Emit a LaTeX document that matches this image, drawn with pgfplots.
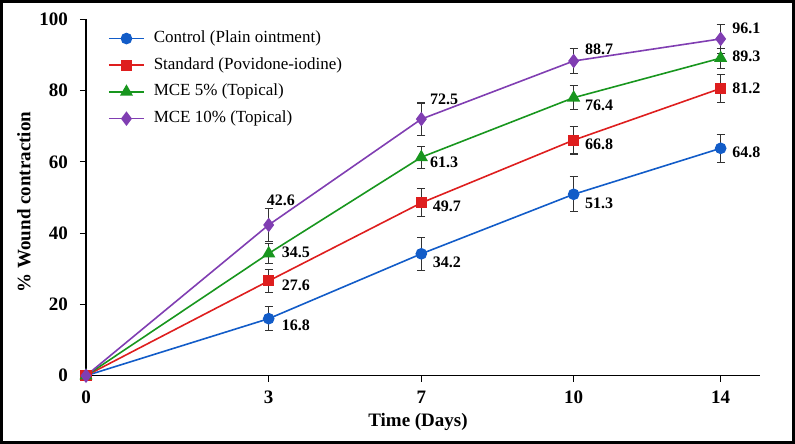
\documentclass[border=0pt]{standalone}
\usepackage{fontspec}
\setmainfont{Liberation Serif}
\usepackage{pgfplots}
\pgfplotsset{compat=1.18}
\definecolor{cblue}{RGB}{18,92,200}
\definecolor{cred}{RGB}{222,30,30}
\definecolor{cgreen}{RGB}{24,150,30}
\definecolor{cpurple}{RGB}{128,62,178}
\definecolor{cerr}{RGB}{50,50,50}
\begin{document}
\begin{tikzpicture}[x=1pt,y=1pt]
\useasboundingbox (0,0) rectangle (795,444);
\draw[line width=3pt] (1.5,1.5) rectangle (793.5,442.5);
\node[font=\fontsize{19}{22}\selectfont\bfseries] at (418,22) {Time (Days)};
\node[font=\fontsize{19}{22}\selectfont\bfseries, rotate=90] at (24,242) {\% Wound contraction};
\begin{axis}[
  at={(86pt,68.3pt)}, anchor=south west,
  scale only axis, width=674pt, height=356.4pt,
  xmin=0, xmax=4.42, ymin=0, ymax=100,
  axis lines=left, axis line style={line width=1.3pt, -},
  clip=false,
  xtick={0,1.198,2.199,3.198,4.162},
  xticklabels={0,3,7,10,14},
  ytick={0,20,40,60,80,100},
  tick align=outside, major tick length=6pt,
  tick style={line width=1.2pt, black},
  /pgf/number format/assume math mode=true,
  ticklabel style={font=\fontsize{19}{22}\selectfont\bfseries},
  yticklabel style={inner sep=0pt, xshift=-12pt},
  xticklabel style={inner sep=0pt, yshift=-9pt},
  legend style={at={(0.0326,0.969)}, anchor=north west, draw=none, fill=none,
    font=\fontsize{17}{20}\selectfont, row sep=10.7pt, inner sep=0pt,
    nodes={inner sep=0pt, text height=12pt, text depth=4pt},
    /tikz/every odd column/.append style={column sep=9pt}},
  legend cell align=left,
  legend image code/.code={\draw[mark repeat=2,mark phase=2] plot coordinates {(0pt,0pt) (17.5pt,0pt) (35pt,0pt)};},
  every axis plot/.append style={line width=1.6pt},
  error bars/error bar style={cerr, line width=1.1pt},
  error bars/error mark options={rotate=90, mark size=4pt, line width=1.1pt, cerr},
]
\addplot[cblue, mark=*, mark size=5pt, mark options={solid, fill=cblue},
  error bars/.cd, y dir=both, y explicit] coordinates {
  (0,0) +- (0,0)
  (1.198,16.0) +- (0,3.3)
  (2.199,34.2) +- (0,4.6)
  (3.198,50.9) +- (0,4.9)
  (4.162,63.8) +- (0,4.0)
};
\addlegendentry{Control (Plain ointment)}
\addplot[cred, mark=square*, mark size=4.8pt, mark options={solid, fill=cred},
  error bars/.cd, y dir=both, y explicit] coordinates {
  (0,0) +- (0,0)
  (1.198,26.6) +- (0,3.3)
  (2.199,48.5) +- (0,3.9)
  (3.198,66.1) +- (0,3.9)
  (4.162,80.6) +- (0,4.0)
};
\addlegendentry{Standard (Povidone-iodine)}
\addplot[cgreen, mark=triangle*, mark size=6pt, mark options={solid, fill=cgreen},
  error bars/.cd, y dir=both, y explicit] coordinates {
  (0,0) +- (0,0)
  (1.198,34.3) +- (0,2.8)
  (2.199,61.3) +- (0,3.1)
  (3.198,78.0) +- (0,3.3)
  (4.162,89.1) +- (0,2.8)
};
\addlegendentry{MCE 5\% (Topical)}
\addplot[cpurple, mark=diamond*, mark size=6pt, mark options={solid, fill=cpurple},
  error bars/.cd, y dir=both, y explicit] coordinates {
  (0,0) +- (0,0)
  (1.198,42.3) +- (0,4.7)
  (2.199,72.0) +- (0,4.5)
  (3.198,88.3) +- (0,3.6)
  (4.162,94.5) +- (0,4.1)
};
\addlegendentry{MCE 10\% (Topical)}
\begin{scope}[every node/.style={font=\fontsize{16}{19}\selectfont\bfseries, anchor=west, inner sep=0pt}]
\node at (axis cs:1.283,14.1) {16.8};
\node at (axis cs:1.283,25.3) {27.6};
\node at (axis cs:1.283,34.6) {34.5};
\node at (axis cs:1.185,49.3) {42.6};
\node at (axis cs:2.273,31.8) {34.2};
\node at (axis cs:2.273,47.4) {49.7};
\node at (axis cs:2.256,60.0) {61.3};
\node at (axis cs:2.256,77.6) {72.5};
\node at (axis cs:3.272,48.4) {51.3};
\node at (axis cs:3.272,65.0) {66.8};
\node at (axis cs:3.272,75.8) {76.4};
\node at (axis cs:3.272,91.7) {88.7};
\node at (axis cs:4.238,62.6) {64.8};
\node at (axis cs:4.238,80.6) {81.2};
\node at (axis cs:4.238,89.7) {89.3};
\node at (axis cs:4.238,97.6) {96.1};
\end{scope}
\end{axis}
\end{tikzpicture}
\end{document}
